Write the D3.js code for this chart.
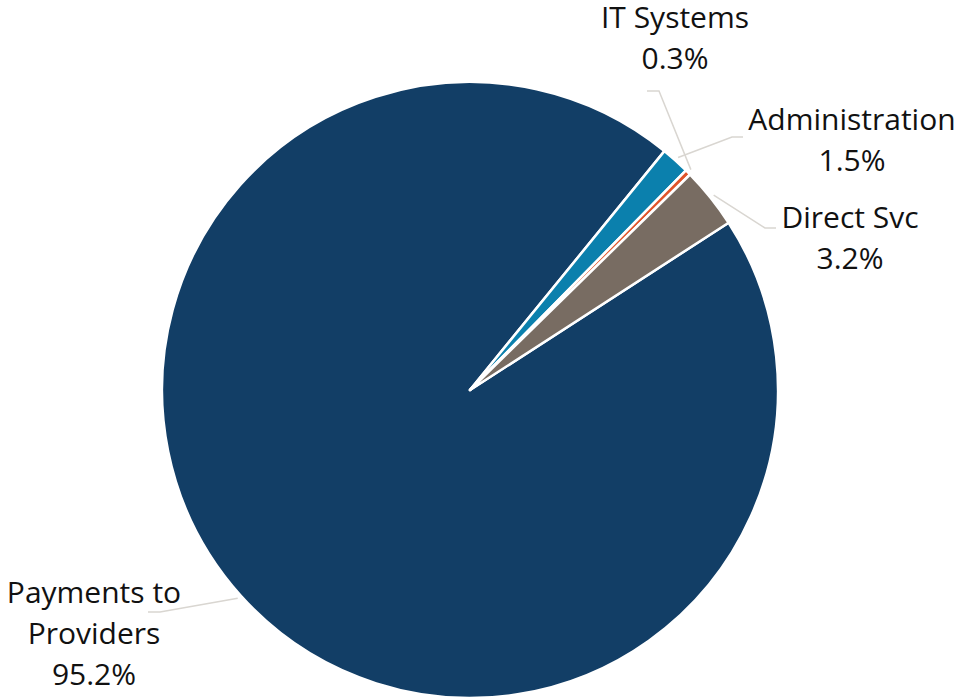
<!DOCTYPE html>
<html>
<head>
<meta charset="utf-8">
<script src="https://cdn.jsdelivr.net/npm/d3@7"></script>
<style>
  html, body { margin: 0; padding: 0; background: #ffffff; }
  svg { display: block; }
  text { font-family: "Open Sans", "Noto Sans", sans-serif; fill: #111111; }
</style>
</head>
<body>
<svg id="chart" width="961" height="698"></svg>
<script>
// Spending components and their shares (%)
const categories = ["Payments to Providers", "Administration", "IT Systems", "Direct Svc"];
const shares = [95.2, 1.5, 0.3, 3.2];
const labelLines = [["Payments to", "Providers", "95.2%"], ["Administration", "1.5%"], ["IT Systems", "0.3%"], ["Direct Svc", "3.2%"]];
const sliceColors = ["#123e66", "#0b80ad", "#e0542a", "#786c62"];

const width = 961, height = 698;
const cx = 470, cy = 390, radius = 308;

const svg = d3.select("#chart");
const g = svg.append("g").attr("transform", `translate(${cx},${cy})`);

const pie = d3.pie()
  .sort(null)
  .value(d => d)
  .startAngle(57.1 * Math.PI / 180)
  .endAngle(57.1 * Math.PI / 180 + 2 * Math.PI);

const arcs = pie(shares);

const arc = d3.arc().innerRadius(0).outerRadius(radius);

g.selectAll("path.slice")
  .data(arcs)
  .join("path")
  .attr("class", "slice")
  .attr("d", arc)
  .attr("fill", (d, i) => sliceColors[i])
  .attr("stroke", "#ffffff")
  .attr("stroke-width", 2.5)
  .attr("stroke-linejoin", "round");

// Label placement: elbow of the leader, end of the leader, text centre and first baseline
const labelLayout = [
  { elbow: [160, 612], end: [148, 612], tx: 94, ty: 603 },
  { elbow: [732, 137], end: [743, 137], tx: 852, ty: 130 },
  { elbow: [659, 91], end: [647, 91], tx: 675, ty: 28 },
  { elbow: [765, 228], end: [776, 228], tx: 850, ty: 228 }
];
const lineGap = 41;

const lineRadius = radius + 4;
arcs.forEach((d, i) => {
  const mid = (d.startAngle + d.endAngle) / 2;
  const p0 = [cx + lineRadius * Math.sin(mid), cy - lineRadius * Math.cos(mid)];
  const L = labelLayout[i];
  svg.append("polyline")
    .attr("points", [p0, L.elbow, L.end].map(p => p.join(",")).join(" "))
    .attr("fill", "none")
    .attr("stroke", "#d9d6d1")
    .attr("stroke-width", 1.5);

  const t = svg.append("text")
    .attr("text-anchor", "middle")
    .attr("font-size", 30);
  labelLines[i].forEach((s, k) => {
    t.append("tspan")
      .attr("x", L.tx)
      .attr("y", L.ty + k * lineGap)
      .text(s);
  });
});
</script>
</body>
</html>
